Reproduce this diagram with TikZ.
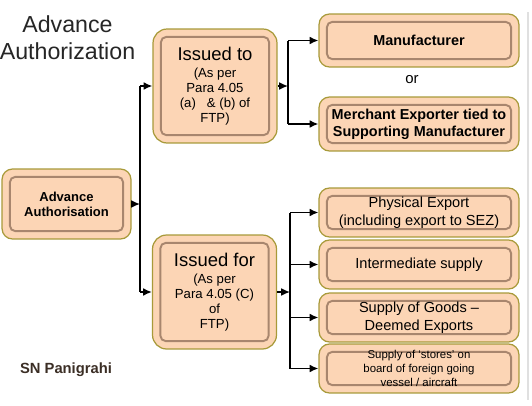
\documentclass[tikz,border=0pt]{standalone}
\usepackage{fontspec}
\setmainfont{Liberation Sans}
\usetikzlibrary{arrows.meta}
\definecolor{peach}{HTML}{FCD5B5}
\definecolor{rimolive}{HTML}{A89A3A}
\definecolor{innerrim}{HTML}{A8866E}
\definecolor{authorink}{HTML}{3B2E25}
\begin{document}
\begin{tikzpicture}[x=0.02cm, y=-0.02cm,
		pbox/.style={draw=rimolive, line width=0.7pt, fill=peach, rounded corners=6pt, align=center, inner sep=2pt,
			path picture={\draw[innerrim, line width=1.1pt, rounded corners=3pt]
				([shift={(4.5pt,-4.5pt)}]path picture bounding box.north west) rectangle
				([shift={(-4.5pt,4.5pt)}]path picture bounding box.south east);}},
		bigbox/.style={pbox, minimum width=2.48cm, minimum height=2.28cm, rounded corners=8pt,
			font=\fontsize{7.5}{8.6}\selectfont},
		sidebox/.style={pbox, minimum width=4cm},
		wire/.style={line width=0.9pt},
		link/.style={wire, -{Latex[length=5pt,width=4.5pt]}}]
	\useasboundingbox (0,0) rectangle (532,406);
	\draw[black!12, line width=1.5pt] (528,12) -- (528,400);
	% title and author
	\node[text=black!85, font=\fontsize{13.2}{15.4}\selectfont, align=center] (title) at (67.5,38) {Advance\\Authorization};
	\node[text=authorink, font=\bfseries\fontsize{8.4}{10}\selectfont] (author) at (66,370) {SN Panigrahi};
	% left column
	\node[pbox, minimum width=2.58cm, minimum height=1.4cm, font=\bfseries\fontsize{7.4}{8.6}\selectfont] (auth) at (66.5,204) {Advance\\Authorisation};
	\node[bigbox] (issuedto) at (215,86) {{\fontsize{10.5}{12}\selectfont Issued to}\\[1pt](As per\\Para 4.05\\(a)~~~\& (b) of\\FTP)};
	\node[bigbox] (issuedfor) at (214.5,292) {{\fontsize{10.5}{12}\selectfont Issued for}\\[1pt](As per\\Para 4.05 (C)\\of\\FTP)};
	% right column
	\node[sidebox, minimum height=1.06cm, font=\bfseries\fontsize{8.2}{9.6}\selectfont] (manuf) at (419,40.5) {Manufacturer};
	\node[font=\fontsize{8.5}{10}\selectfont] (or) at (412,80) {or};
	\node[sidebox, minimum height=1.08cm, font=\bfseries\fontsize{8.2}{9.6}\selectfont] (merchant) at (419,124) {Merchant Exporter tied to\\Supporting Manufacturer};
	\node[sidebox, minimum height=0.98cm, font=\fontsize{8.3}{10}\selectfont] (phys) at (419,212.5) {Physical Export\\(including export to SEZ)};
	\node[sidebox, minimum height=0.98cm, font=\fontsize{8.3}{10}\selectfont] (inter) at (419,264.5) {Intermediate supply};
	\node[sidebox, minimum height=0.98cm, font=\fontsize{8.3}{10}\selectfont] (goods) at (419,317.5) {Supply of Goods --\\Deemed Exports};
	\node[sidebox, minimum height=0.98cm, font=\fontsize{6.5}{8}\selectfont] (stores) at (419,368.5) {Supply of `stores' on\\board of foreign going\\vessel / aircraft};
	% connectors
	\coordinate (fork) at (140,204);
	\draw[link] (auth) -- (fork);
	\draw[wire] (fork |- issuedto.west) -- (fork |- issuedfor.west);
	\foreach \n in {issuedto, issuedfor}
		\draw[link] (fork |- \n.west) -- (\n.west);
	\coordinate (forkto) at (288,86);
	\draw[link] (issuedto) -- (forkto);
	\draw[wire] (forkto |- manuf.west) -- (forkto |- merchant.west);
	\foreach \n in {manuf, merchant}
		\draw[link] (forkto |- \n.west) -- (\n.west);
	\coordinate (forkfor) at (290,292);
	\draw[link] (issuedfor) -- (forkfor);
	\draw[wire] (forkfor |- phys.west) -- (forkfor |- stores.west);
	\foreach \n in {phys, inter, goods, stores}
		\draw[link] (forkfor |- \n.west) -- (\n.west);
\end{tikzpicture}
\end{document}
